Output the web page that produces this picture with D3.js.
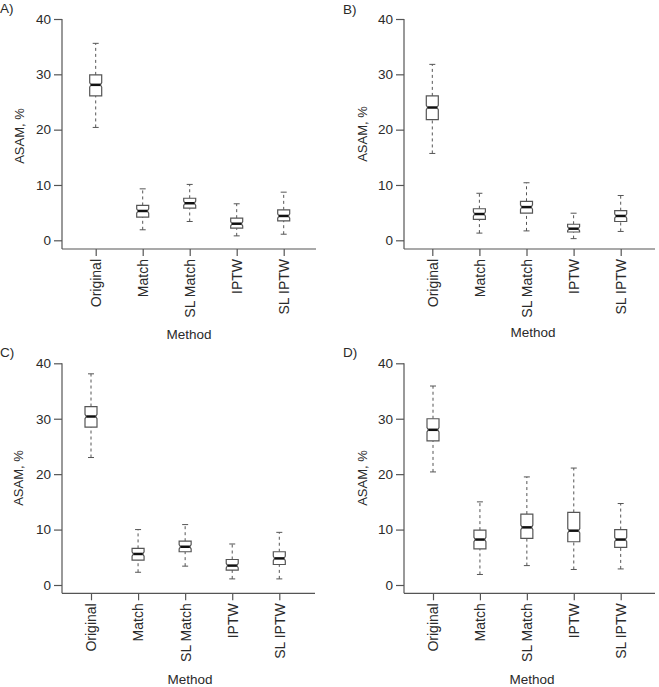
<!DOCTYPE html>
<html>
<head>
  <meta charset="utf-8">
  <title>ASAM by method</title>
  <style>
  body { margin: 0; background: #fff; }
  text { font-family: "Liberation Sans", Arial, sans-serif; fill: #2a2a2a; }
  .y .tick text { font-size: 13.5px; }
  .x .tick text { font-size: 14px; }
  </style>
</head>
<body>
  <div id="chart"></div>
  <script src="https://cdn.jsdelivr.net/npm/d3@7"></script>
  <script>
  //methods on the x axis
  var methods = ["Original", "Match", "SL Match", "IPTW", "SL IPTW"];
  var yTicks = [0, 10, 20, 30, 40];
  var panelLabels = ["A)", "B)", "C)", "D)"];

  //each row: [whisker low, q1, median, q3, whisker high]
  var statsA = [[20.4, 26.1, 28.1, 29.9, 35.6], [1.9, 4.2, 5.3, 6.3, 9.3], [3.4, 5.8, 6.7, 7.6, 10.1], [0.8, 2.2, 3.0, 4.0, 6.6], [1.1, 3.5, 4.4, 5.5, 8.7]];
  var statsB = [[15.7, 21.8, 24.0, 26.1, 31.8], [1.3, 3.8, 4.75, 5.7, 8.5], [1.7, 4.9, 6.0, 7.05, 10.4], [0.3, 1.5, 2.1, 2.9, 4.9], [1.6, 3.4, 4.4, 5.35, 8.1]];
  var statsC = [[23.0, 28.5, 30.4, 32.2, 38.1], [2.3, 4.5, 5.6, 6.6, 10.0], [3.4, 6.0, 6.9, 7.9, 10.9], [1.1, 2.7, 3.5, 4.6, 7.4], [1.1, 3.7, 4.8, 6.0, 9.5]];
  var statsD = [[20.4, 26.0, 28.0, 30.0, 35.9], [1.9, 6.5, 8.2, 9.9, 15.0], [3.5, 8.4, 10.4, 12.8, 19.5], [2.8, 7.8, 9.8, 13.1, 21.1], [2.9, 6.8, 8.2, 10.0, 14.7]];
  //notch half height, in % units
  var notchHalf = [0.4, 0.4, 0.4, 0.4];

  //layout of the four panels (pixels)
  var panels = [
    {stats: statsA, label: panelLabels[0], lx: 0, ly: 13, axisX: 62, top: 19, zero: 240.3, baseY: 249, right: 316, cats: [95.7, 283.7], ylx: 19, yly: 136, mx: 189, my: 339},
    {stats: statsB, label: panelLabels[1], lx: 343, ly: 14, axisX: 404, top: 19, zero: 240.3, baseY: 249, right: 655, cats: [432.3, 620.7], ylx: 362, yly: 134, mx: 533, my: 337},
    {stats: statsC, label: panelLabels[2], lx: 0, ly: 357, axisX: 62, top: 363.3, zero: 585, baseY: 593.3, right: 315, cats: [91, 279.3], ylx: 18, yly: 478, mx: 190, my: 684},
    {stats: statsD, label: panelLabels[3], lx: 343, ly: 357, axisX: 404, top: 363.3, zero: 585, baseY: 593.3, right: 655, cats: [433, 620.7], ylx: 362, yly: 478, mx: 532, my: 684}
  ];

  var svg = d3.select("#chart")
  .append("svg")
  .attr("width", 659)
  .attr("height", 687);

  var axisColor = "#555";
  var boxW = 12;

  panels.forEach(function(p, pi) {
    var g = svg.append("g");

    var x = d3.scalePoint().domain(methods).range(p.cats);
    var y = d3.scaleLinear().domain([0, 40]).range([p.zero, p.top]);

    //panel letter
    g.append("text")
    .attr("x", p.lx)
    .attr("y", p.ly)
    .style("font-size", "13.5px")
    .text(p.label);

    //y axis (L shaped frame)
    var yAxis = g.append("g")
    .attr("class", "y")
    .attr("transform", "translate(" + p.axisX + ",0)")
    .call(d3.axisLeft(y).tickValues(yTicks).tickSize(8).tickPadding(3));
    yAxis.select(".domain").remove();
    yAxis.selectAll(".tick line").attr("stroke", axisColor).attr("stroke-width", 1.2);

    g.append("line")
    .attr("x1", p.axisX).attr("x2", p.axisX)
    .attr("y1", y(40)).attr("y2", p.baseY)
    .attr("stroke", axisColor).attr("stroke-width", 1.2);

    var xAxis = g.append("g")
    .attr("class", "x")
    .attr("transform", "translate(0," + p.baseY + ")")
    .call(d3.axisBottom(x).tickSize(7).tickPadding(3));
    xAxis.select(".domain").remove();
    xAxis.selectAll(".tick line").attr("stroke", axisColor).attr("stroke-width", 1.2);
    xAxis.selectAll(".tick text")
    .attr("transform", "rotate(-90)")
    .attr("text-anchor", "end")
    .attr("x", -10)
    .attr("y", 0)
    .attr("dy", "0.35em");

    g.append("line")
    .attr("x1", p.axisX).attr("x2", p.right)
    .attr("y1", p.baseY).attr("y2", p.baseY)
    .attr("stroke", axisColor).attr("stroke-width", 1.2);

    //axis titles
    g.append("text")
    .attr("transform", "translate(" + p.ylx + "," + p.yly + ") rotate(-90)")
    .attr("text-anchor", "middle")
    .attr("dy", "0.35em")
    .style("font-size", "13px")
    .text("ASAM, %");

    g.append("text")
    .attr("x", p.mx)
    .attr("y", p.my)
    .attr("text-anchor", "middle")
    .style("font-size", "13.5px")
    .text("Method");

    //boxes
    var box = g.selectAll("g.box")
    .data(p.stats)
    .enter().append("g")
    .attr("class", "box")
    .attr("transform", function(d, i) { return "translate(" + x(methods[i]) + ",0)"; });

    //dashed whiskers
    box.append("line")
    .attr("x1", 0).attr("x2", 0)
    .attr("y1", function(d) { return y(d[0]); })
    .attr("y2", function(d) { return y(d[1]); })
    .attr("stroke", axisColor).attr("stroke-dasharray", "3,3");
    box.append("line")
    .attr("x1", 0).attr("x2", 0)
    .attr("y1", function(d) { return y(d[3]); })
    .attr("y2", function(d) { return y(d[4]); })
    .attr("stroke", axisColor).attr("stroke-dasharray", "3,3");

    //whisker caps
    [0, 4].forEach(function(k) {
      box.append("line")
      .attr("x1", -3).attr("x2", 3)
      .attr("y1", function(d) { return y(d[k]); })
      .attr("y2", function(d) { return y(d[k]); })
      .attr("stroke", axisColor);
    });

    //notched box outline
    var nh = notchHalf[pi];
    var hw = boxW / 2, ind = 1.3;
    box.append("path")
    .attr("d", function(d) {
      var q1 = y(d[1]), q3 = y(d[3]), m = y(d[2]);
      var nTop = Math.max(y(d[2] + nh), q3), nBot = Math.min(y(d[2] - nh), q1);
      return "M" + (-hw) + "," + q3 + "L" + hw + "," + q3 +
        "L" + hw + "," + nTop + "L" + (hw - ind) + "," + m + "L" + hw + "," + nBot +
        "L" + hw + "," + q1 + "L" + (-hw) + "," + q1 +
        "L" + (-hw) + "," + nBot + "L" + (-hw + ind) + "," + m + "L" + (-hw) + "," + nTop + "Z";
    })
    .attr("fill", "#fff")
    .attr("stroke", axisColor)
    .attr("stroke-width", 1.2);

    //median
    box.append("line")
    .attr("x1", -hw + ind).attr("x2", hw - ind)
    .attr("y1", function(d) { return y(d[2]); })
    .attr("y2", function(d) { return y(d[2]); })
    .attr("stroke", "#111")
    .attr("stroke-width", 2.5);
  });
  </script>
</body>
</html>
